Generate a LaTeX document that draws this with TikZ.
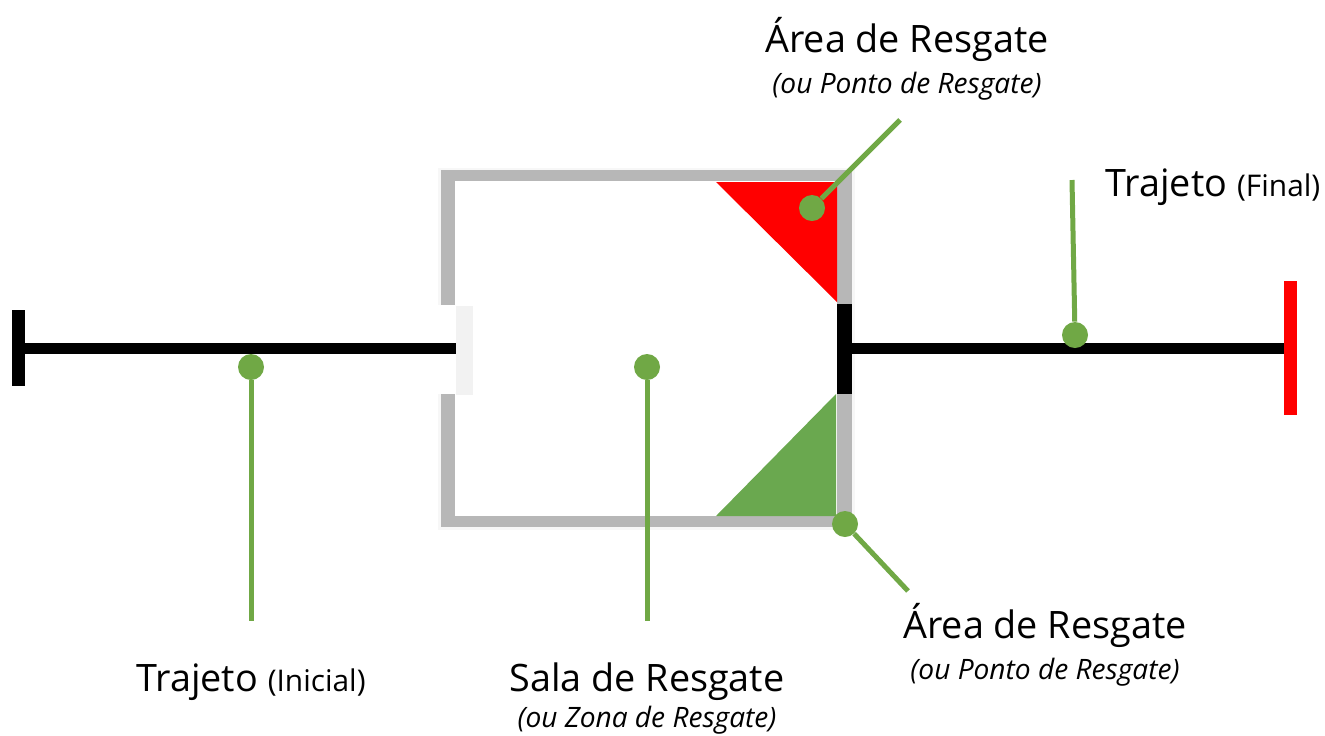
\documentclass[tikz,border=0pt]{standalone}
\usepackage{fontspec}
\setmainfont{Open Sans}
\definecolor{pingreen}{HTML}{70A845}
\definecolor{zonegreen}{HTML}{6AA84F}
\definecolor{wallgray}{HTML}{B7B7B7}
\newcommand{\parentext}[1]{{\fontsize{17}{18}\selectfont #1}}
\tikzset{
    pin/.style = {draw = none, circle, fill = pingreen, minimum size = 26*0.02cm, inner sep = 0pt},
    leader/.style = {draw = pingreen, line width = 5*0.02cm},
    title/.style = {font = \fontsize{21.5}{24}\selectfont, inner sep = 0pt},
    subtitle/.style = {font = \fontsize{16}{18}\selectfont\itshape, inner sep = 0pt}
}
\begin{document}
\begin{tikzpicture} [x = 0.02cm, y = -0.02cm]
        \useasboundingbox (0, 0) rectangle (1325, 735);
        
        % sala
        \fill [black!3] (438, 168) rectangle (855, 530);
        \fill [white] (455, 181) rectangle (837, 516);
        \fill [white] (435, 305) rectangle (456, 394);
        \fill [wallgray] (441, 170) rectangle (852, 181);
        \fill [wallgray] (441, 516) rectangle (852, 527);
        \fill [wallgray] (441, 170) rectangle (455, 305);
        \fill [wallgray] (441, 394) rectangle (455, 527);
        \fill [wallgray] (837, 170) rectangle (852, 304);
        \fill [wallgray] (837, 394) rectangle (852, 527);
        \fill [white!95!black] (456, 306) rectangle (473, 395);
        
        % areas
        \fill [red] (716, 182) -- (837, 182) -- (837, 302) -- cycle;
        \fill [zonegreen] (716, 516) -- (836, 516) -- (836, 394) -- cycle;
        
        % trajeto
        \fill [black] (12, 310) rectangle (25, 386);
        \fill [black] (25, 343) rectangle (456, 354);
        \fill [black] (837, 304) rectangle (852, 394);
        \fill [black] (852, 343) rectangle (1285, 354);
        \fill [red] (1284, 281) rectangle (1297, 415);
        
        \node [pin] (pinicial) at (251, 367) {};
        \node [pin] (psala) at (647, 367) {};
        \node [pin] (pvermelha) at (812, 208) {};
        \node [pin] (pfinal) at (1075, 335) {};
        \node [pin] (pverde) at (845, 524) {};
        
        \coordinate (einicial) at (251, 621);
        \coordinate (esala) at (647, 621);
        \coordinate (evermelha) at (900, 120);
        \coordinate (efinal) at (1072, 180);
        \coordinate (everde) at (908, 591);
        
        \path [leader] (pinicial) -- (einicial);
        \path [leader] (psala) -- (esala);
        \path [leader] (pvermelha) -- (evermelha);
        \path [leader] (pfinal) -- (efinal);
        \path [leader] (pverde) -- (everde);
        
        \node [title] (tvermelha) at (907, 39) {Área de Resgate};
        \node [subtitle] (svermelha) at (907, 86) {(ou Ponto de Resgate)};
        \node [title] (tverde) at (1045, 625) {Área de Resgate};
        \node [subtitle] (sverde) at (1045, 672) {(ou Ponto de Resgate)};
        \node [title] (tsala) at (647, 682) {Sala de Resgate};
        \node [subtitle] (ssala) at (647, 720) {(ou Zona de Resgate)};
        \node [title] (tinicial) at (251, 682) {Trajeto \parentext{(Inicial)}};
        \node [title] (tfinal) at (1213, 187) {Trajeto \parentext{(Final)}};
        
    \end{tikzpicture}
\end{document}
